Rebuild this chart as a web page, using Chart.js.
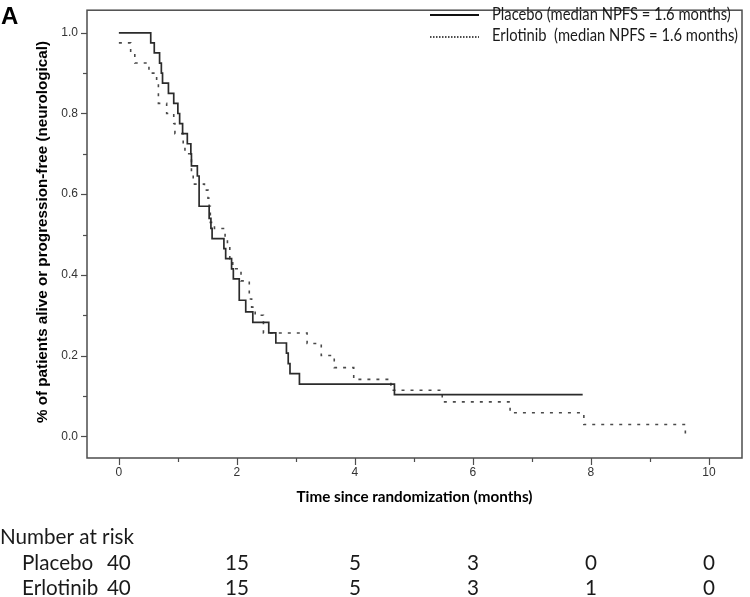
<!DOCTYPE html>
<html>
<head>
<meta charset="utf-8">
<script src="https://cdn.jsdelivr.net/npm/chart.js@4/dist/chart.umd.min.js"></script>
<style>
  html, body { margin: 0; padding: 0; background: #ffffff; }
  #wrap { width: 750px; height: 597px; position: relative; }
</style>
</head>
<body>
<div id="wrap"><canvas id="c" width="750" height="597"></canvas></div>
<script>
// ---- data ----
const placeboTimes = [0, 0.54, 0.60, 0.69, 0.72, 0.74, 0.84, 0.93, 1.00, 1.03, 1.08, 1.16, 1.22, 1.23, 1.33, 1.36, 1.53, 1.56, 1.58, 1.78, 1.81, 1.91, 1.94, 2.04, 2.15, 2.27, 2.54, 2.66, 2.84, 2.87, 2.90, 3.06, 4.67, 7.86];
const placeboSurv  = [1.0, 0.975, 0.95, 0.925, 0.90, 0.875, 0.85, 0.825, 0.80, 0.775, 0.75, 0.725, 0.70, 0.67, 0.645, 0.57, 0.54, 0.515, 0.49, 0.465, 0.44, 0.415, 0.39, 0.337, 0.308, 0.282, 0.256, 0.231, 0.206, 0.18, 0.155, 0.129, 0.103, 0.103];
const erlotinibTimes = [0, 0.20, 0.27, 0.51, 0.64, 0.67, 0.81, 0.93, 0.95, 1.09, 1.12, 1.23, 1.26, 1.45, 1.51, 1.53, 1.55, 1.62, 1.80, 1.84, 1.88, 1.93, 2.07, 2.21, 2.25, 2.31, 2.45, 3.19, 3.43, 3.65, 3.98, 4.61, 5.48, 6.63, 7.88, 9.60];
const erlotinibSurv  = [0.975, 0.95, 0.925, 0.90, 0.875, 0.825, 0.80, 0.775, 0.75, 0.725, 0.70, 0.65, 0.625, 0.61, 0.59, 0.57, 0.53, 0.515, 0.49, 0.47, 0.44, 0.415, 0.385, 0.34, 0.32, 0.30, 0.256, 0.23, 0.20, 0.17, 0.141, 0.114, 0.085, 0.058, 0.029, 0.0];
const seriesNames = ["Placebo", "Erlotinib"];
const legendLabels = ["Placebo (median NPFS = 1.6 months)", "Erlotinib  (median NPFS = 1.6 months)"];
const riskTimes = [0, 2, 4, 6, 8, 10];
const placeboAtRisk = [40, 15, 5, 3, 0, 0];
const erlotinibAtRisk = [40, 15, 5, 3, 1, 0];
const xTitle = "Time since randomization (months)";
const yTitle = "% of patients alive or progression-free (neurological)";
const panelLabel = "A";

function toPoints(ts, ss) { return ts.map((t, i) => ({ x: t, y: ss[i] })); }

const TEXT = '#1a1a1a';
const CAL = 'Lato, "Open Sans", sans-serif';
const ARIAL = '"Liberation Sans", Arial, sans-serif';

function squeeze(ctx, font, refText, targetW) {
  ctx.font = font;
  return targetW / ctx.measureText(refText).width;
}
function drawText(ctx, text, x, y, font, sx, align) {
  ctx.save();
  ctx.font = font;
  ctx.textAlign = align || 'left';
  ctx.textBaseline = 'middle';
  ctx.translate(x, y);
  ctx.scale(sx, 1);
  ctx.fillText(text, 0, 0);
  ctx.restore();
}

const decor = {
  id: 'decor',
  afterDraw(chart) {
    const { ctx, chartArea: a, scales: { x, y } } = chart;
    ctx.save();
    ctx.strokeStyle = '#4d4d4d';
    ctx.lineWidth = 1.5;
    ctx.strokeRect(a.left, a.top, a.right - a.left, a.bottom - a.top);
    ctx.lineWidth = 1.2;
    for (let v = 0; v <= 10; v++) {
      const px = Math.round(x.getPixelForValue(v)) + 0.5;
      const len = v % 2 === 0 ? 7 : 4;
      ctx.beginPath(); ctx.moveTo(px, a.bottom); ctx.lineTo(px, a.bottom + len); ctx.stroke();
    }
    for (let k = 0; k <= 10; k++) {
      const py = Math.round(y.getPixelForValue(k / 10)) + 0.5;
      const len = k % 2 === 0 ? 6 : 4;
      ctx.beginPath(); ctx.moveTo(a.left, py); ctx.lineTo(a.left - len, py); ctx.stroke();
    }
    ctx.fillStyle = '#000';
    drawText(ctx, panelLabel, 1, 17, 'bold 24px ' + ARIAL, 1, 'left');
    // legend
    const lx0 = 430, lx1 = 479, tx = 492;
    const lfont = '17px ' + CAL;
    const lsx = squeeze(ctx, lfont, legendLabels[1], 246);
    ctx.strokeStyle = '#111';
    ctx.lineWidth = 2;
    ctx.beginPath(); ctx.moveTo(lx0, 15); ctx.lineTo(lx1, 15); ctx.stroke();
    ctx.lineWidth = 1.5;
    ctx.setLineDash([1.5, 1.5]);
    ctx.beginPath(); ctx.moveTo(lx0, 37); ctx.lineTo(lx1, 37); ctx.stroke();
    ctx.setLineDash([]);
    ctx.fillStyle = TEXT;
    drawText(ctx, legendLabels[0], tx, 15, lfont, lsx, 'left');
    drawText(ctx, legendLabels[1], tx, 36, lfont, lsx, 'left');
    // x title
    ctx.fillStyle = '#000';
    const xfont = 'bold 15px ' + CAL;
    const xsx = squeeze(ctx, xfont, xTitle, 236);
    drawText(ctx, xTitle, (a.left + a.right) / 2, 497, xfont, xsx, 'center');
    // y title
    const yfont = 'bold 14px ' + ARIAL;
    const ysx = squeeze(ctx, yfont, yTitle, 382);
    ctx.save();
    ctx.translate(43, 232);
    ctx.rotate(-Math.PI / 2);
    drawText(ctx, yTitle, 0, 0, yfont, ysx, 'center');
    ctx.restore();
    // number at risk
    ctx.fillStyle = TEXT;
    const rfont = '20.5px ' + CAL;
    const rsx = squeeze(ctx, rfont, 'Number at risk', 134);
    drawText(ctx, 'Number at risk', 0, 537, rfont, rsx, 'left');
    const rowsY = [563, 588];
    const rows = [placeboAtRisk, erlotinibAtRisk];
    seriesNames.forEach((nm, r) => {
      drawText(ctx, nm, 22, rowsY[r], rfont, rsx, 'left');
      riskTimes.forEach((t, i) => {
        drawText(ctx, String(rows[r][i]), x.getPixelForValue(t), rowsY[r], rfont, rsx, 'center');
      });
    });
    ctx.restore();
  }
};

new Chart(document.getElementById('c'), {
  type: 'line',
  data: {
    datasets: [
      {
        label: seriesNames[0],
        data: toPoints(placeboTimes, placeboSurv),
        borderColor: '#2b2b2b',
        borderWidth: 1.7,
        stepped: 'before',
        pointRadius: 0,
        fill: false
      },
      {
        label: seriesNames[1],
        data: toPoints(erlotinibTimes, erlotinibSurv),
        borderColor: '#4a4a4a',
        borderWidth: 1.6,
        borderDash: [3, 6],
        stepped: 'before',
        pointRadius: 0,
        fill: false
      }
    ]
  },
  options: {
    responsive: false,
    animation: false,
    events: [],
    layout: { padding: { top: 5, right: 8, left: 0, bottom: 0 } },
    plugins: { legend: { display: false }, tooltip: { enabled: false }, title: { display: false } },
    scales: {
      x: {
        type: 'linear',
        min: -0.54, max: 10.56,
        afterFit: (s) => { s.height = 139; },
        grid: { display: true, drawOnChartArea: false, drawTicks: true, tickLength: 7, color: 'rgba(0,0,0,0)' },
        border: { display: false },
        ticks: {
          stepSize: 1, includeBounds: false, autoSkip: false, maxRotation: 0, padding: 0,
          color: '#333', font: { family: ARIAL, size: 12 },
          callback: (v) => (Math.round(v) % 2 === 0 ? String(Math.round(v)) : '')
        }
      },
      y: {
        type: 'linear',
        min: -0.054, max: 1.056,
        afterFit: (s) => { s.width = 87; },
        grid: { display: true, drawOnChartArea: false, drawTicks: true, tickLength: 6, color: 'rgba(0,0,0,0)' },
        border: { display: false },
        ticks: {
          stepSize: 0.1, includeBounds: false, autoSkip: false, padding: 3,
          color: '#333', font: { family: ARIAL, size: 12 },
          callback: (v) => (Math.round(v * 10) % 2 === 0 ? (Math.round(v * 10) / 10).toFixed(1) : '')
        }
      }
    }
  },
  plugins: [decor]
});
</script>
</body>
</html>
